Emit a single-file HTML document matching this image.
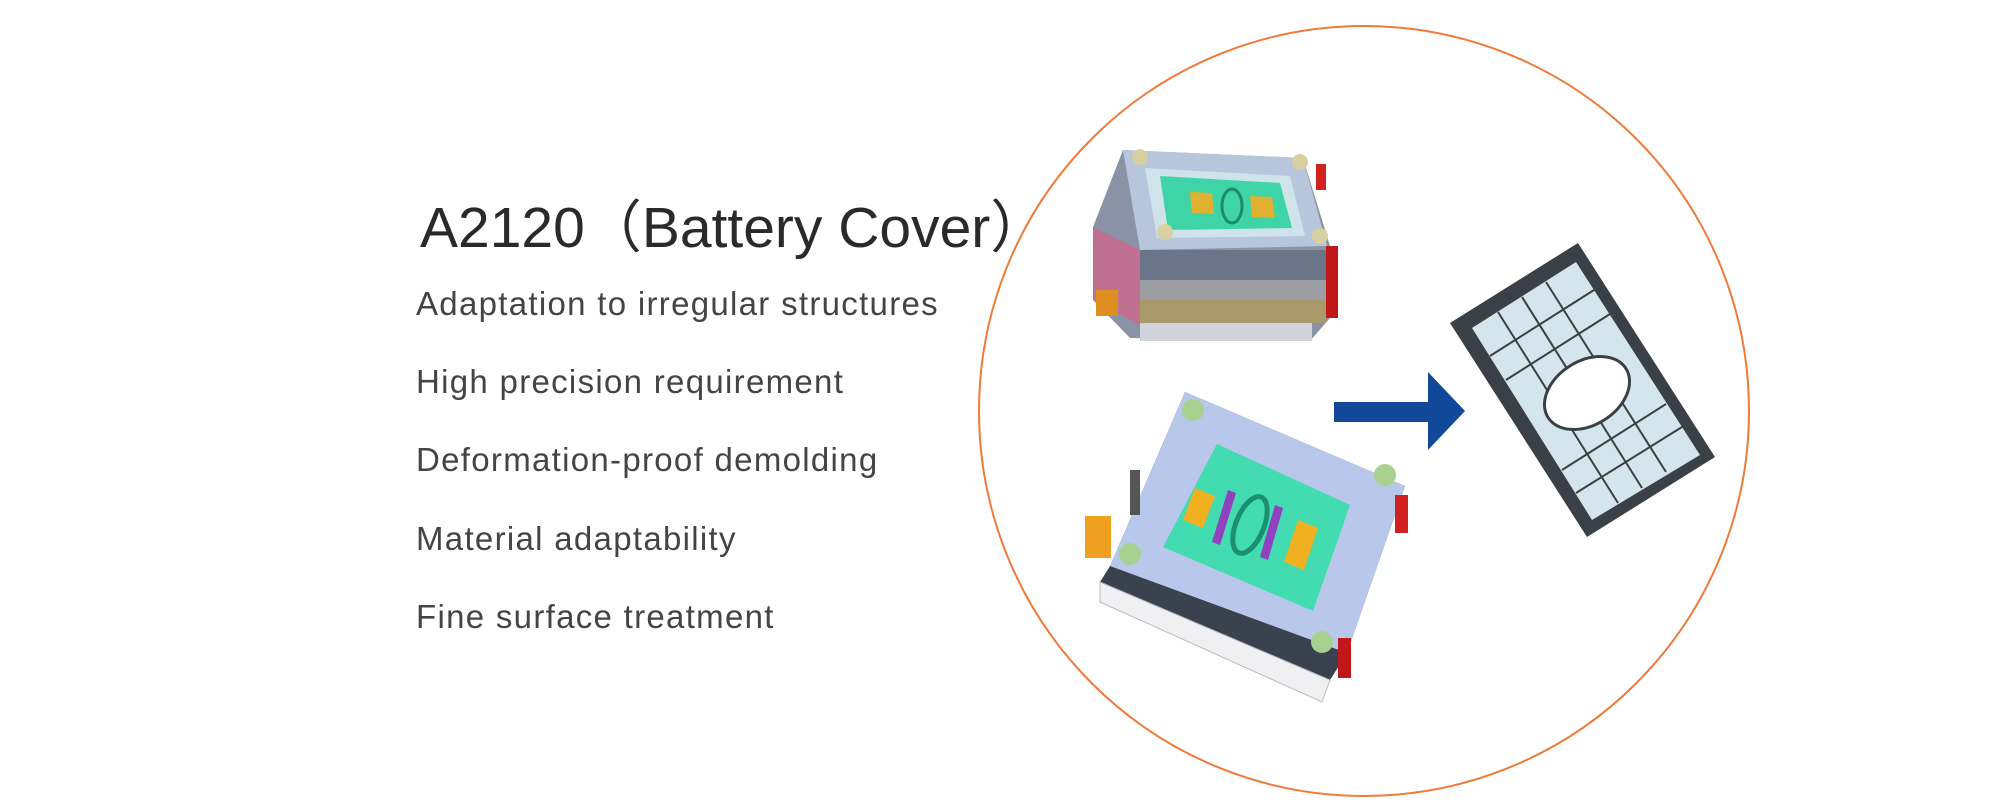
<!DOCTYPE html>
<html><head><meta charset="utf-8"><style>
html,body{margin:0;padding:0;background:#fff;}
body{width:2000px;height:800px;position:relative;overflow:hidden;font-family:"Liberation Sans",sans-serif;}
.t{position:absolute;left:420px;top:182px;font-size:57px;color:#2a2a2a;white-space:nowrap;}
.b{position:absolute;left:416px;font-size:33px;letter-spacing:1.3px;color:#444;white-space:nowrap;}
svg{position:absolute;left:0;top:0;}
</style></head><body>
<svg width="2000" height="800">
<circle cx="1364" cy="411" r="385" fill="none" stroke="#f07a3a" stroke-width="2"/>
<!-- top mold -->
<polygon points="1123,150 1303,158 1330,246 1330,318 1310,341 1130,338 1093,300 1093,227" fill="#8a93a6"/>
<polygon points="1123,150 1303,158 1327,246 1140,250" fill="#b8c6dc"/>
<polygon points="1145,168 1290,176 1305,236 1157,238" fill="#cfe3ea"/>
<polygon points="1160,176 1280,183 1292,228 1168,230" fill="#3fd4a6"/>
<polygon points="1190,192 1212,193 1214,214 1192,213" fill="#e0b030"/>
<polygon points="1250,196 1272,197 1275,218 1252,217" fill="#e0b030"/>
<ellipse cx="1232" cy="206" rx="10" ry="17" fill="none" stroke="#1a8a6a" stroke-width="3"/>
<circle cx="1140" cy="157" r="8" fill="#d8d0a0"/>
<circle cx="1300" cy="162" r="8" fill="#d8d0a0"/>
<circle cx="1165" cy="232" r="8" fill="#d8d0a0"/>
<circle cx="1320" cy="236" r="8" fill="#d8d0a0"/>
<rect x="1140" y="250" width="190" height="30" fill="#6b7588"/>
<rect x="1140" y="280" width="188" height="20" fill="#9c9ea4"/>
<rect x="1140" y="300" width="186" height="23" fill="#a89a6a"/>
<rect x="1140" y="323" width="172" height="18" fill="#d0d4da"/>
<polygon points="1093,227 1140,250 1140,325 1093,300" fill="#c07090"/>
<rect x="1316" y="164" width="10" height="26" fill="#d02020"/>
<rect x="1326" y="246" width="12" height="72" fill="#c01818"/>
<rect x="1096" y="290" width="22" height="26" fill="#e09020"/>
<!-- bottom mold -->
<polygon points="1185,392 1405,486 1347,653 1330,680 1100,582 1110,566" fill="#3a4250"/>
<polygon points="1100,582 1330,680 1322,702 1100,602" fill="#f0f0f2" stroke="#bbb" stroke-width="1"/>
<polygon points="1185,392 1405,486 1347,653 1110,566" fill="#b9c8ea"/>
<polygon points="1217,444 1350,505 1313,611 1163,547" fill="#42dcb0"/>
<polygon points="1195,488 1215,496 1203,528 1183,520" fill="#f0b020"/>
<polygon points="1298,520 1318,528 1304,570 1284,562" fill="#f0b020"/>
<ellipse cx="1250" cy="525" rx="14" ry="30" transform="rotate(22 1250 525)" fill="none" stroke="#1a9070" stroke-width="5"/>
<polygon points="1228,490 1236,493 1220,545 1212,542" fill="#9040c0"/>
<polygon points="1275,505 1283,508 1268,560 1260,557" fill="#9040c0"/>
<circle cx="1193" cy="410" r="11" fill="#a8d090"/>
<circle cx="1385" cy="475" r="11" fill="#a8d090"/>
<circle cx="1130" cy="554" r="11" fill="#a8d090"/>
<circle cx="1322" cy="642" r="11" fill="#a8d090"/>
<rect x="1395" y="495" width="13" height="38" fill="#d02020"/>
<rect x="1338" y="638" width="13" height="40" fill="#c01818"/>
<rect x="1085" y="516" width="26" height="42" fill="#f0a020"/>
<rect x="1130" y="470" width="10" height="45" fill="#555"/>
<!-- arrow -->
<polygon points="1334,402 1428,402 1428,372 1465,411 1428,450 1428,422 1334,422" fill="#12489a"/>
<!-- part -->
<polygon points="1450,323 1578,243 1715,457 1587,537" fill="#3a4045"/>
<polygon points="1472,328 1576,262 1700,455 1592,520" fill="#d4e6ec"/>
<g stroke="#3a4045" stroke-width="2">
<line x1="1498" y1="312" x2="1618" y2="503"/>
<line x1="1522" y1="297" x2="1642" y2="488"/>
<line x1="1546" y1="282" x2="1666" y2="472"/>
<line x1="1490" y1="356" x2="1594" y2="290"/>
<line x1="1506" y1="380" x2="1610" y2="314"/>
<line x1="1562" y1="470" x2="1666" y2="404"/>
<line x1="1576" y1="493" x2="1682" y2="427"/>
</g>
<ellipse cx="1587" cy="393" rx="46" ry="32" transform="rotate(-32 1587 393)" fill="#fff" stroke="#3a4045" stroke-width="3"/>
</svg>
<div class="t">A2120（Battery Cover）</div>
<div class="b" style="top:285px">Adaptation to irregular structures</div>
<div class="b" style="top:363px">High precision requirement</div>
<div class="b" style="top:441px">Deformation-proof demolding</div>
<div class="b" style="top:520px">Material adaptability</div>
<div class="b" style="top:598px">Fine surface treatment</div>
</body></html>
